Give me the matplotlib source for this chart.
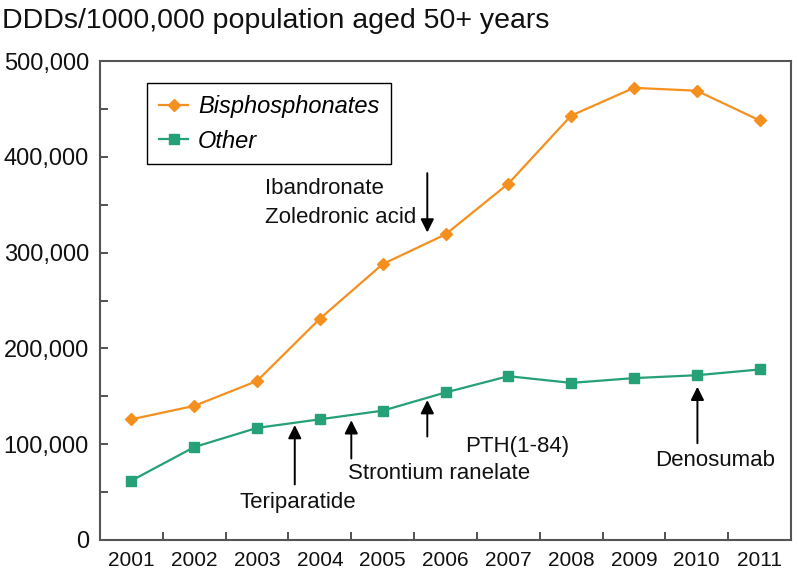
import matplotlib
matplotlib.use("Agg")
import matplotlib.pyplot as plt
from matplotlib.ticker import FuncFormatter, MultipleLocator, FixedLocator

plt.rcParams['font.family'] = ['Liberation Sans', 'DejaVu Sans']

# Data
years = ['2001', '2002', '2003', '2004', '2005', '2006',
         '2007', '2008', '2009', '2010', '2011']
bisphosphonates = [126000, 140000, 166000, 231000, 288000, 319000,
                   372000, 443000, 472000, 469000, 438000]
other = [62000, 97000, 117000, 126000, 135000, 154000,
         171000, 164000, 169000, 172000, 178000]

# drug launches: (label, x position in year index units, arrow start, arrow tip)
launches = [
    ('Ibandronate\nZoledronic acid', 4.71, 383000, 321000),
    ('Teriparatide', 2.60, 58000, 120000),
    ('Strontium ranelate', 3.50, 85000, 125000),
    ('PTH(1-84)', 4.71, 108000, 146000),
    ('Denosumab', 9.01, 101000, 160000),
]
# label anchor (x index, baseline y)
label_pos = {
    'Ibandronate\nZoledronic acid': (2.12, 361000),
    'Teriparatide': (1.72, 33000),
    'Strontium ranelate': (3.44, 63500),
    'PTH(1-84)': (5.32, 92000),
    'Denosumab': (8.34, 77000),
}

orange = '#F5901E'
green = '#25A077'

fig = plt.figure(figsize=(7.99, 5.73), dpi=100)
ax = fig.add_axes([0.1252, 0.0576, 0.8648, 0.8359])

x = list(range(len(years)))
ax.plot(x, bisphosphonates, color=orange, lw=1.6, marker='D', ms=6,
        label='Bisphosphonates')
ax.plot(x, other, color=green, lw=1.6, marker='s', ms=7.5,
        label='Other')

for name, xa, y0, y1 in launches:
    ax.annotate('', xy=(xa, y1), xytext=(xa, y0),
                arrowprops=dict(arrowstyle='-|>', color='black', lw=1.4,
                                mutation_scale=20, shrinkA=0, shrinkB=0))
    tx, ty = label_pos[name]
    lines = name.split('\n')
    for i, line in enumerate(lines):
        ax.text(tx, ty - i * 30000, line, fontsize=16, va='baseline',
                ha='left', color='#111111')

ax.set_xlim(-0.5, len(years) - 0.5)
ax.set_ylim(0, 500000)

# year labels at band centres, tick marks at band boundaries
ax.xaxis.set_major_locator(FixedLocator(x))
ax.set_xticklabels(years, fontsize=15, color='#111111')
ax.xaxis.set_minor_locator(FixedLocator([i + 0.5 for i in x[:-1]]))
ax.tick_params(axis='x', which='major', length=0, pad=8)
ax.tick_params(axis='x', which='minor', direction='in', length=6,
               width=1.3, color='#444444')

ax.yaxis.set_major_locator(MultipleLocator(100000))
ax.yaxis.set_minor_locator(MultipleLocator(50000))
ax.yaxis.set_major_formatter(FuncFormatter(lambda v, p: f'{int(v):,}'))
ax.tick_params(axis='y', which='both', direction='in', length=6,
               width=1.3, color='#444444', labelsize=17, pad=8,
               labelcolor='#111111')

for s in ax.spines.values():
    s.set_color('#555555')
    s.set_linewidth(1.5)

leg = ax.legend(loc='upper left', bbox_to_anchor=(0.068, 0.954),
                borderaxespad=0, fancybox=False, edgecolor='black',
                framealpha=1, numpoints=1, handlelength=1.25,
                handletextpad=0.4, labelspacing=0.5, borderpad=0.5,
                prop={'size': 17, 'style': 'italic'})
leg.get_frame().set_linewidth(1.0)

fig.text(0.003, 1 - 28 / 573, 'DDDs/1000,000 population aged 50+ years',
         fontsize=20.5, va='baseline', ha='left', color='#111111')

fig.savefig('out.png', dpi=100)
